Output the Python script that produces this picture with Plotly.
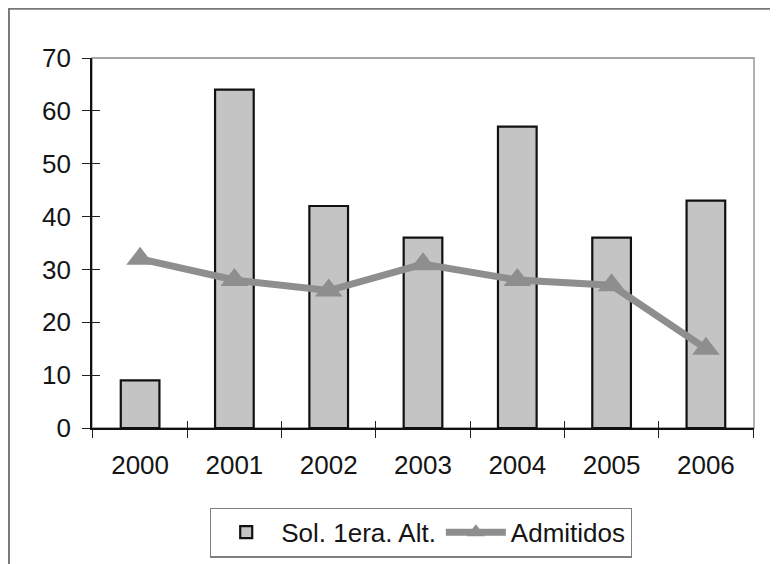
import plotly.graph_objects as go

years = ["2000", "2001", "2002", "2003", "2004", "2005", "2006"]
solicitudes = [9, 64, 42, 36, 57, 36, 43]
admitidos = [32, 28, 26, 31, 28, 27, 15]
y_ticks = [0, 10, 20, 30, 40, 50, 60, 70]

FONT = "Liberation Sans, Arial, sans-serif"

fig = go.Figure()
fig.add_trace(go.Bar(
    x=years, y=solicitudes, name="Sol. 1era. Alt.",
    marker=dict(color="#c4c4c4", line=dict(color="#111111", width=2.2)),
))
fig.add_trace(go.Scatter(
    x=years, y=admitidos, name="Admitidos", mode="lines+markers",
    line=dict(color="#8e8e8e", width=7),
    marker=dict(symbol="triangle-up", size=24, color="#8e8e8e"),
))
# invisible helper trace for the inner half of the crossing ticks
fig.add_trace(go.Scatter(
    x=years, y=admitidos, xaxis="x2", yaxis="y2", mode="markers",
    marker=dict(opacity=0), showlegend=False, hoverinfo="skip",
))

axis_common = dict(showgrid=False, zeroline=False)
fig.update_layout(
    width=778, height=564,
    margin=dict(l=84, r=32, t=50, b=144),
    paper_bgcolor="white", plot_bgcolor="white",
    font=dict(family=FONT, size=26, color="#151515"),
    bargap=0.59,
    showlegend=True,
    legend=dict(
        orientation="h", x=0.497, xanchor="center", y=-0.215, yanchor="top",
        bordercolor="#808080", borderwidth=1.2, font=dict(size=26),
        itemwidth=60, tracegroupgap=0,
    ),
    xaxis=dict(
        **axis_common, type="category", tickson="boundaries",
        ticks="outside", ticklen=8, tickwidth=1.2, tickcolor="#222",
        showline=True, linecolor="#111", linewidth=1.8,
        ticklabelstandoff=13,
    ),
    yaxis=dict(
        **axis_common, range=[0, 70], tickmode="array", tickvals=y_ticks,
        ticks="outside", ticklen=8, tickwidth=1.2, tickcolor="#222",
        showline=True, linecolor="#111", linewidth=1.8,
        ticklabelstandoff=6,
    ),
    xaxis2=dict(
        **axis_common, type="category", tickson="boundaries", overlaying="x",
        matches="x", anchor="y2", side="bottom",
        ticks="inside", ticklen=7, tickwidth=1.2, tickcolor="#222",
        showticklabels=False, showline=False,
    ),
    yaxis2=dict(
        **axis_common, range=[0, 70], tickmode="array", tickvals=y_ticks,
        overlaying="y", anchor="x2", side="left",
        ticks="inside", ticklen=8, tickwidth=1.2, tickcolor="#222",
        showticklabels=False, showline=False,
    ),
    shapes=[
        dict(type="rect", xref="paper", yref="paper", x0=0, x1=1, y0=0, y1=1,
             line=dict(color="#8a8a8a", width=1.3), layer="below"),
        dict(type="rect", xref="paper", yref="paper", x0=-0.1255, x1=1.2,
             y0=-0.6, y1=1.133, line=dict(color="#777777", width=2),
             layer="below"),
    ],
)

fig.write_html("out.html")
